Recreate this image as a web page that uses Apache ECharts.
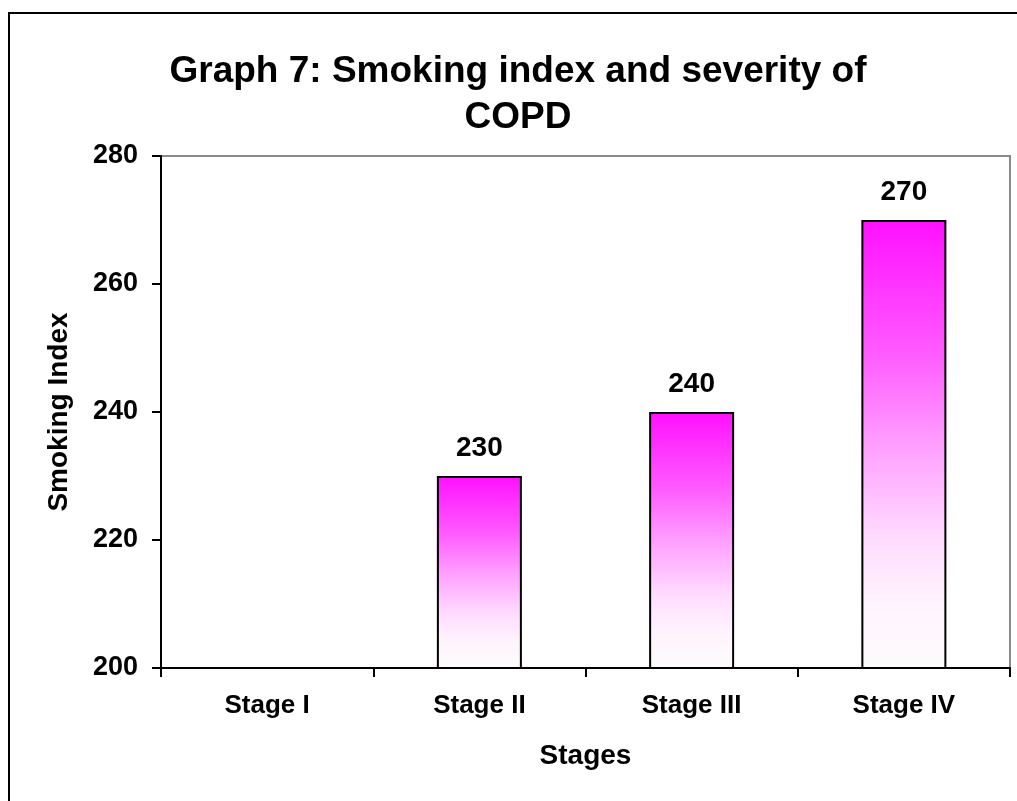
<!DOCTYPE html>
<html>
<head>
<meta charset="utf-8">
<script src="https://cdn.jsdelivr.net/npm/echarts@6/dist/echarts.min.js"></script>
<style>
html,body{margin:0;padding:0;background:#fff;}
#chart{width:1017px;height:801px;}
</style>
</head>
<body>
<div id="chart"></div>
<script>
// Data
const categories = ['Stage I', 'Stage II', 'Stage III', 'Stage IV'];
const smokingIndex = [null, 230, 240, 270]; // Stage I: no bar visible
const yTicks = [200, 220, 240, 260, 280];
const titleText = 'Graph 7: Smoking index and severity of\nCOPD';
const xName = 'Stages';
const yName = 'Smoking Index';

const chart = echarts.init(document.getElementById('chart'), null, {renderer: 'canvas'});
const FONT = '"Liberation Sans", Arial, sans-serif';

chart.setOption({
  backgroundColor: '#ffffff',
  animation: false,
  title: {
    text: titleText,
    left: 513,
    top: 44,
    textAlign: 'center',
    textStyle: {
      fontFamily: FONT, fontWeight: 'bold', fontSize: 37, lineHeight: 46, color: '#000'
    }
  },
  graphic: [{
    type: 'rect',
    shape: {x: 9, y: 13, width: 1100, height: 900},
    style: {fill: 'none', stroke: '#000', lineWidth: 2},
    silent: true
  }],
  grid: {
    left: 161, right: 7, top: 156, bottom: 133,
    show: true, borderColor: '#8a8a8a', borderWidth: 2, backgroundColor: 'transparent'
  },
  xAxis: {
    type: 'category',
    data: categories,
    name: xName,
    nameLocation: 'middle',
    nameGap: 74,
    nameTextStyle: {fontFamily: FONT, fontWeight: 'bold', fontSize: 28, color: '#000'},
    axisLine: {lineStyle: {color: '#000', width: 2}},
    axisTick: {show: true, length: 9, inside: false, alignWithLabel: false, lineStyle: {color: '#000', width: 2}},
    axisLabel: {margin: 25, fontFamily: FONT, fontWeight: 'bold', fontSize: 26, color: '#000'},
    splitLine: {show: false}
  },
  yAxis: {
    type: 'value',
    min: yTicks[0],
    max: yTicks[yTicks.length - 1],
    interval: yTicks[1] - yTicks[0],
    name: yName,
    nameLocation: 'middle',
    nameGap: 88,
    nameRotate: 90,
    nameTextStyle: {fontFamily: FONT, fontWeight: 'bold', fontSize: 28, color: '#000'},
    axisLine: {show: true, lineStyle: {color: '#000', width: 2}},
    axisTick: {show: true, length: 9, inside: false, lineStyle: {color: '#000', width: 2}},
    axisLabel: {margin: 23, fontFamily: FONT, fontWeight: 'bold', fontSize: 27, color: '#000'},
    splitLine: {show: false}
  },
  series: [{
    type: 'bar',
    data: smokingIndex,
    barWidth: 85,
    itemStyle: {
      color: new echarts.graphic.LinearGradient(0, 0, 0, 1, [
        {offset: 0, color: '#ff10ff'},
        {offset: 0.3, color: '#ff5cff'},
        {offset: 0.5, color: '#ff9eff'},
        {offset: 0.7, color: '#ffd9ff'},
        {offset: 0.85, color: '#fff3fd'},
        {offset: 1, color: '#fcfcfc'}
      ]),
      borderColor: '#000',
      borderWidth: 2
    },
    label: {
      show: true,
      position: 'top',
      distance: 14,
      fontFamily: FONT, fontWeight: 'bold', fontSize: 28, color: '#000'
    }
  }]
});
</script>
</body>
</html>
